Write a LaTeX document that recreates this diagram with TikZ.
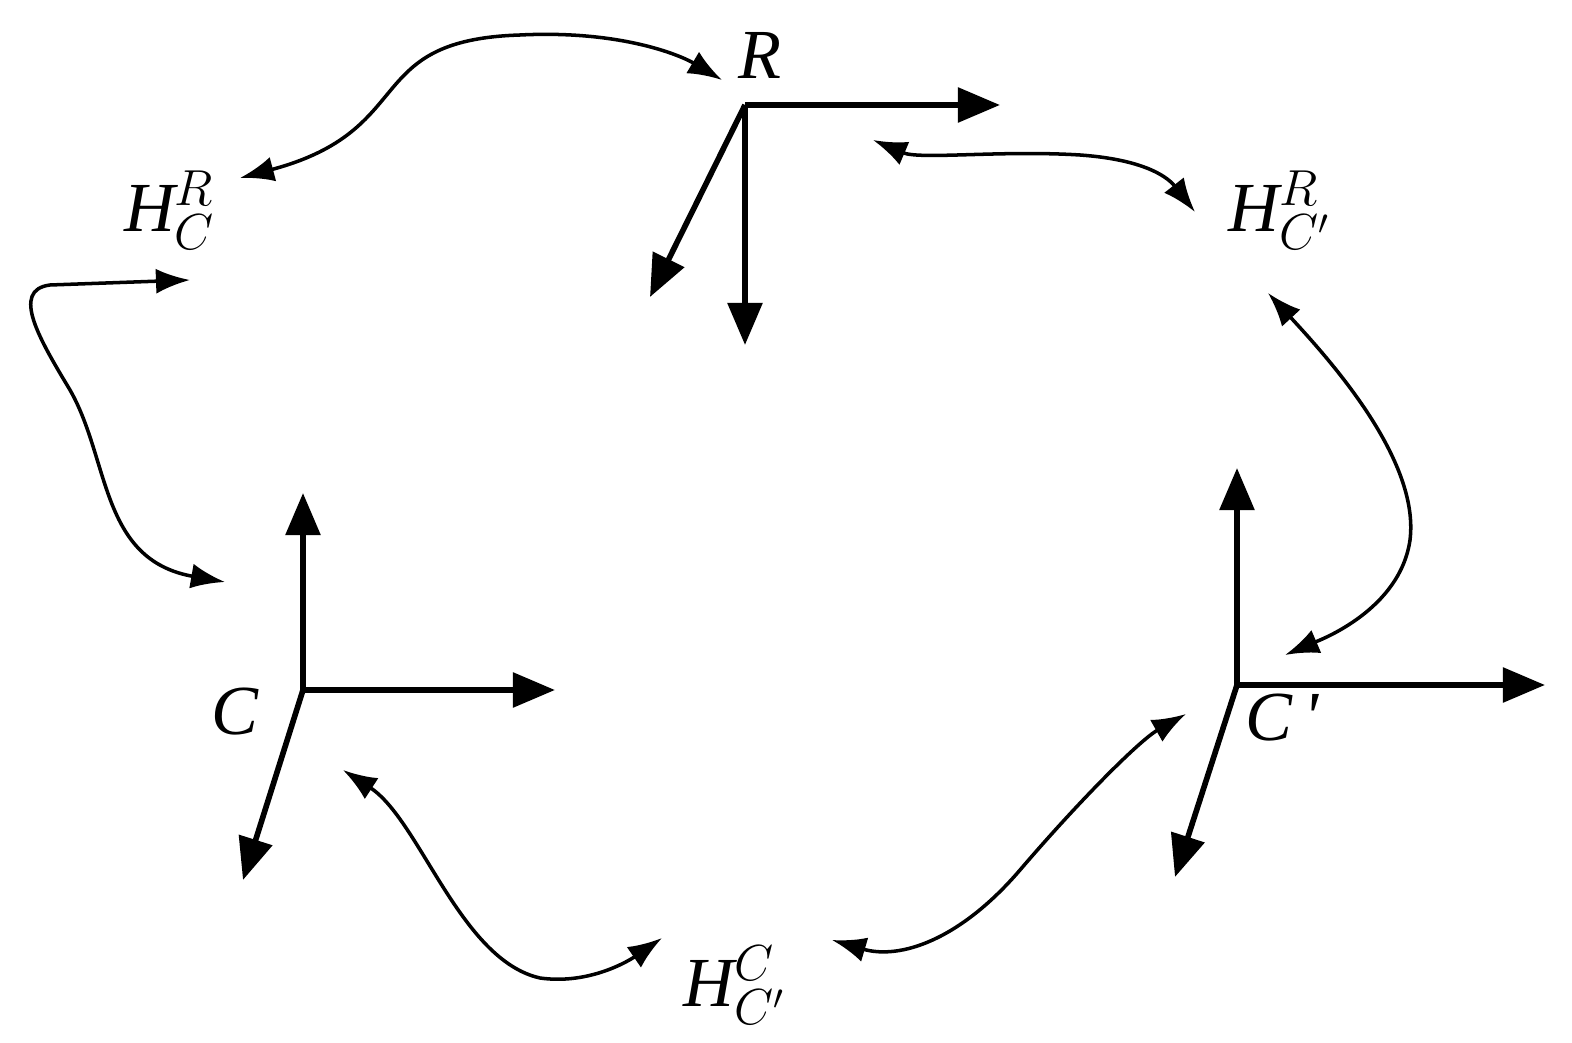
\documentclass[tikz,border=0pt]{standalone}
\usepackage{fontspec}
\setmainfont{Liberation Serif}
\usetikzlibrary{arrows.meta}
\begin{document}
\begin{tikzpicture}[x=0.01cm,y=-0.01cm,
  axis/.style={line width=1.6pt,-{Triangle[length=0.42cm,width=0.34cm]}},
  link/.style={line width=1pt,{Latex[length=0.34cm,width=0.25cm]}-{Latex[length=0.34cm,width=0.25cm]}},
  lbl/.style={font=\fontsize{20}{24}\selectfont\itshape,inner sep=0pt}]
\useasboundingbox (0,0) rectangle (1572,1043);
% frames
\coordinate (R) at (745,105);
\coordinate (Rx) at (1000,105);
\coordinate (Ry) at (745,345);
\coordinate (Rz) at (650,297);
\draw[axis] (R) -- (Rx);
\draw[axis] (R) -- (Ry);
\draw[axis] (R) -- (Rz);
\coordinate (C) at (303,690);
\coordinate (Cx) at (555,690);
\coordinate (Cy) at (303,493);
\coordinate (Cz) at (243,880);
\draw[axis] (C) -- (Cx);
\draw[axis] (C) -- (Cy);
\draw[axis] (C) -- (Cz);
\coordinate (D) at (1237,685);
\coordinate (Dx) at (1545,685);
\coordinate (Dy) at (1237,468);
\coordinate (Dz) at (1175,877);
\draw[axis] (D) -- (Dx);
\draw[axis] (D) -- (Dy);
\draw[axis] (D) -- (Dz);
% labels
\node[lbl] (lR) at (760,55) {R};
\node[lbl] (lHCR) at (170,210) {H$_{C}^{R}$};
\node[lbl] (lHDR) at (1280,210) {H$_{C'}^{R}$};
\node[lbl] (lC) at (235,712) {C};
\node[lbl] (lD) at (1282,718) {C\,\textquotesingle};
\node[lbl] (lHDC) at (735,985) {H$_{C'}^{C}$};
% links
\coordinate (a1) at (240,178); \coordinate (a2) at (722,80);
\draw[link] (a1) .. controls (420,130) and (360,40) .. (520,35) .. controls (620,30) and (680,55) .. (a2);
\coordinate (b1) at (873,140); \coordinate (b2) at (1195,212);
\draw[link] (b1) .. controls (920,160) and (1000,150) .. (1080,155) .. controls (1150,160) and (1170,180) .. (b2);
\coordinate (c1) at (190,280); \coordinate (c2) at (225,582);
\draw[link] (c1) -- (50,285) .. controls (10,290) and (40,340) .. (70,390) .. controls (110,460) and (100,560) .. (c2);
\coordinate (d1) at (1268,293); \coordinate (d2) at (1285,655);
\draw[link] (d1) .. controls (1330,360) and (1420,460) .. (1410,540) .. controls (1400,610) and (1320,640) .. (d2);
\coordinate (e1) at (343,770); \coordinate (e2) at (662,938);
\draw[link] (e1) .. controls (420,820) and (460,960) .. (540,978) .. controls (590,985) and (630,960) .. (e2);
\coordinate (f1) at (832,940); \coordinate (f2) at (1186,714);
\draw[link] (f1) .. controls (900,960) and (960,940) .. (1020,870) .. controls (1080,800) and (1140,740) .. (f2);
\end{tikzpicture}
\end{document}
